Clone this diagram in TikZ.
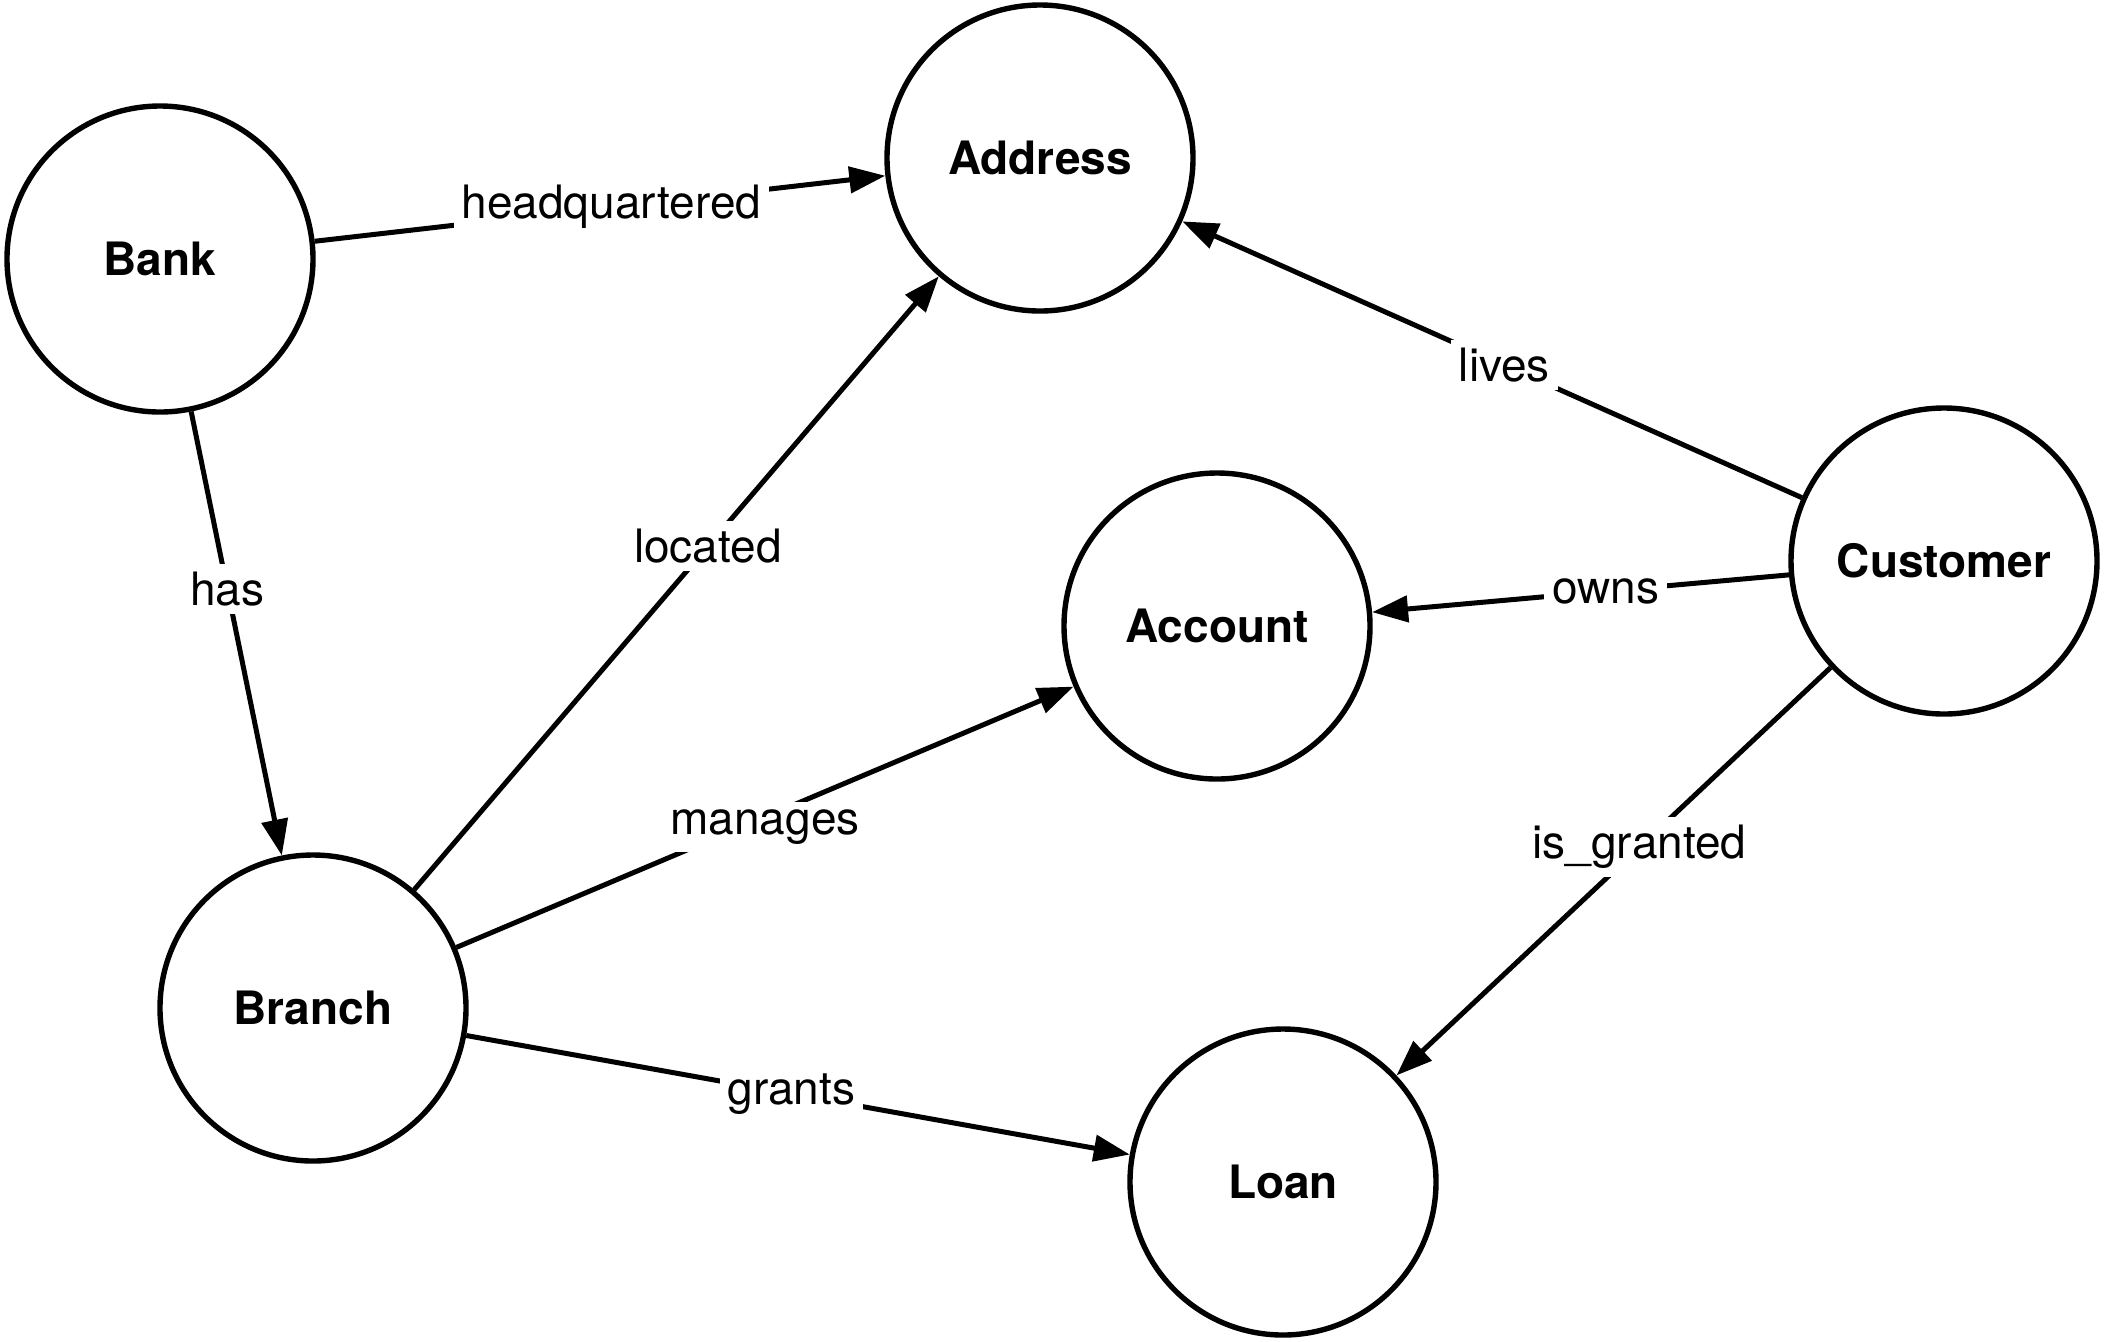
\documentclass[tikz,border=0pt]{standalone}
\usepackage{fontspec}
\setmainfont{TeX Gyre Heros}
\usetikzlibrary{arrows.meta}
\tikzset{
  ent/.style={circle, draw=black, line width=2.7pt, minimum size=153pt, inner sep=0pt, font=\fontsize{23}{27}\selectfont\bfseries},
  rel/.style={draw=black, line width=2.5pt, -{Triangle[length=18pt,width=13pt]}},
  lbl/.style={fill=white, inner sep=4pt, font=\fontsize{23}{27}\selectfont}
}
\begin{document}
\begin{tikzpicture}[x=0.5pt,y=-0.5pt]
\useasboundingbox (0,0) rectangle (2104,1341);
\node[ent] (bank) at (160,259) {Bank};
\node[ent] (address) at (1040,158) {Address};
\node[ent] (account) at (1217,626) {Account};
\node[ent] (customer) at (1944,561) {Customer};
\node[ent] (branch) at (313,1008) {Branch};
\node[ent] (loan) at (1283,1182) {Loan};

\draw[rel] (bank) -- node[lbl, pos=0.52] {headquartered} (address);
\draw[rel] (bank) -- node[lbl, pos=0.40] {has} (branch);
\draw[rel] (branch) -- node[lbl, pos=0.56] {located} (address);
\draw[rel] (branch) -- node[lbl, pos=0.50, yshift=-5pt] {manages} (account);
\draw[rel] (branch) -- node[lbl, pos=0.49] {grants} (loan);
\draw[rel] (customer) -- node[lbl, pos=0.48] {lives} (address);
\draw[rel] (customer) -- node[lbl, pos=0.44] {owns} (account);
\draw[rel] (customer) -- node[lbl, pos=0.44] {is\_granted} (loan);
\end{tikzpicture}
\end{document}
